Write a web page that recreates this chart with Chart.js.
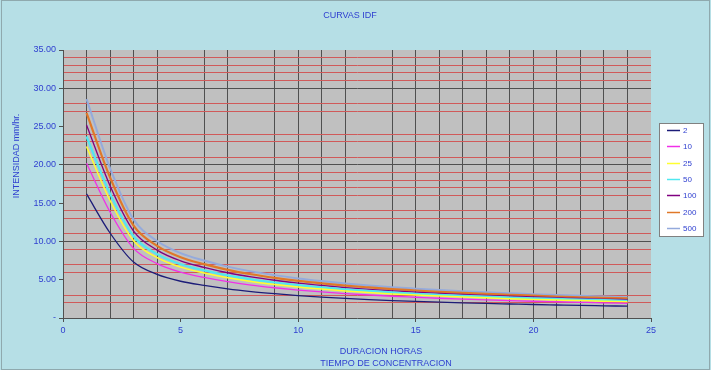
<!DOCTYPE html>
<html>
<head>
<meta charset="utf-8">
<script src="https://cdn.jsdelivr.net/npm/chart.js@4/dist/chart.umd.min.js"></script>
<style>
html, body { margin: 0; padding: 0; background: #b6dfe6; }
</style>
</head>
<body>
<canvas id="myChart" width="711" height="370"></canvas>
<script>
// duracion (horas) y periodos de retorno
var durations = [1,2,3,4,5,6,7,8,9,10,11,12,13,14,15,16,17,18,19,20,21,22,23,24];
var periods = ['2','10','25','50','100','200','500'];

// intensidades mm/hr
var t2   = [16.20,11.10,7.30,5.70,4.80,4.25,3.80,3.45,3.17,2.93,2.73,2.56,2.41,2.28,2.17,2.07,1.98,1.90,1.83,1.76,1.70,1.64,1.59,1.54];
var t10  = [20.20,13.84,9.10,7.11,5.99,5.30,4.74,4.30,3.95,3.65,3.40,3.19,3.01,2.84,2.71,2.58,2.47,2.37,2.28,2.19,2.12,2.05,1.98,1.92];
var t25  = [22.40,15.35,10.10,7.88,6.64,5.88,5.26,4.77,4.38,4.05,3.78,3.54,3.33,3.15,3.00,2.86,2.74,2.63,2.53,2.43,2.35,2.27,2.20,2.13];
var t50  = [23.70,16.24,10.68,8.34,7.02,6.22,5.56,5.05,4.64,4.29,3.99,3.75,3.53,3.34,3.17,3.03,2.90,2.78,2.68,2.57,2.49,2.40,2.33,2.25];
var t100 = [25.21,17.27,11.36,8.87,7.47,6.61,5.91,5.37,4.93,4.56,4.25,3.98,3.75,3.55,3.38,3.22,3.08,2.96,2.85,2.74,2.65,2.55,2.47,2.40];
var t200 = [26.79,18.36,12.07,9.43,7.94,7.03,6.29,5.71,5.24,4.85,4.52,4.23,3.99,3.77,3.59,3.42,3.27,3.14,3.03,2.91,2.81,2.71,2.63,2.55];
var t500 = [28.59,19.59,12.88,10.06,8.47,7.50,6.71,6.09,5.60,5.17,4.82,4.52,4.25,4.02,3.83,3.65,3.49,3.35,3.23,3.11,3.00,2.89,2.81,2.72];

var series = [t2, t10, t25, t50, t100, t200, t500];
var colors = ['#1c1c78', '#f030e8', '#ffff30', '#50e8f0', '#800080', '#e07828', '#94aadc'];
var widths = [1.3, 1.3, 1.5, 2.2, 1.3, 2.2, 2];

// lineas menores que no se ven en el original
var hiddenY = [1, 4, 8, 12, 22, 26, 29];
var hiddenX = [5, 8, 13];

var blue = '#3040d0';
var font = 'Liberation Sans, Arial, sans-serif';

function pts(vals) {
    return durations.map(function(d, i) { return {x: d, y: vals[i]}; });
}

var datasets = series.map(function(s, i) {
    return {
        label: periods[i],
        data: pts(s),
        borderColor: colors[i],
        backgroundColor: colors[i],
        borderWidth: widths[i],
        pointRadius: 0,
        fill: false,
        cubicInterpolationMode: 'monotone'
    };
});

var decor = {
    id: 'decor',
    beforeDraw: function(chart) {
        var c = chart.ctx, a = chart.chartArea;
        c.save();
        c.fillStyle = '#b6dfe6';
        c.fillRect(0, 0, chart.width, chart.height);
        c.strokeStyle = '#8fa9ae';
        c.lineWidth = 1;
        c.strokeRect(1.5, 0.5, chart.width - 3, chart.height - 1);
        c.fillStyle = '#c0c0c0';
        c.fillRect(a.left, a.top, a.right - a.left, a.bottom - a.top);
        c.restore();
    },
    afterDraw: function(chart) {
        var c = chart.ctx;
        c.save();
        c.fillStyle = blue;
        c.textAlign = 'center';
        c.textBaseline = 'middle';
        c.font = '9px ' + font;
        c.fillText('CURVAS IDF', 350, 16);
        c.fillText('DURACION HORAS', 381, 352);
        c.fillText('TIEMPO DE CONCENTRACION', 386, 364);
        c.translate(17, 156);
        c.rotate(-Math.PI / 2);
        c.fillText('INTENSIDAD mm/hr.', 0, 0);
        c.restore();

        // leyenda
        c.save();
        c.fillStyle = '#ffffff';
        c.fillRect(659, 123, 45, 114);
        c.strokeStyle = '#808080';
        c.lineWidth = 1;
        c.strokeRect(659.5, 123.5, 44, 113);
        c.font = '8px ' + font;
        c.textAlign = 'left';
        c.textBaseline = 'middle';
        chart.data.datasets.forEach(function(ds, i) {
            var y = Math.round(130 + i * 16.3) + 0.5;
            c.strokeStyle = ds.borderColor;
            c.lineWidth = 1.5;
            c.beginPath();
            c.moveTo(667, y);
            c.lineTo(680, y);
            c.stroke();
            c.fillStyle = blue;
            c.fillText(ds.label, 683, y);
        });
        c.restore();
    }
};

var ctx = document.getElementById('myChart').getContext('2d');
var chart = new Chart(ctx, {
    type: 'line',
    data: { datasets: datasets },
    plugins: [decor],
    options: {
        responsive: false,
        animation: false,
        devicePixelRatio: 1,
        layout: { padding: { top: 50, right: 60, bottom: 0, left: 0 } },
        plugins: {
            legend: { display: false },
            title: { display: false },
            tooltip: { enabled: false }
        },
        scales: {
            x: {
                type: 'linear',
                min: 0,
                max: 25,
                afterFit: function(s) { s.height = 52; },
                border: { color: '#505050' },
                grid: {
                    tickLength: 4,
                    color: function(c) {
                        var v = c.tick.value;
                        if (v === 0 || v === 25 || hiddenX.indexOf(v) >= 0) return 'rgba(0,0,0,0)';
                        return '#505050';
                    },
                    tickColor: function(c) {
                        return c.tick.value % 5 === 0 ? '#505050' : 'rgba(0,0,0,0)';
                    }
                },
                ticks: {
                    stepSize: 1,
                    autoSkip: false,
                    maxRotation: 0,
                    padding: 3,
                    color: blue,
                    font: { family: font, size: 9 },
                    callback: function(v) { return v % 5 === 0 ? String(v) : ''; }
                }
            },
            y: {
                min: 0,
                max: 35,
                afterFit: function(s) { s.width = 63; },
                border: { color: '#505050' },
                grid: {
                    tickLength: 4,
                    color: function(c) {
                        var v = c.tick.value;
                        if (v === 0) return 'rgba(0,0,0,0)';
                        if (v % 10 === 0) return '#505050';
                        if (v % 5 === 0 || hiddenY.indexOf(v) >= 0) return 'rgba(0,0,0,0)';
                        return '#d05a5a';
                    },
                    tickColor: function(c) {
                        return c.tick.value % 5 === 0 ? '#505050' : 'rgba(0,0,0,0)';
                    }
                },
                ticks: {
                    stepSize: 1,
                    autoSkip: false,
                    padding: 3,
                    color: blue,
                    font: { family: font, size: 9 },
                    callback: function(v) {
                        if (v % 5 !== 0) return '';
                        return v === 0 ? '-' : v.toFixed(2);
                    }
                }
            }
        }
    }
});
</script>
</body>
</html>
